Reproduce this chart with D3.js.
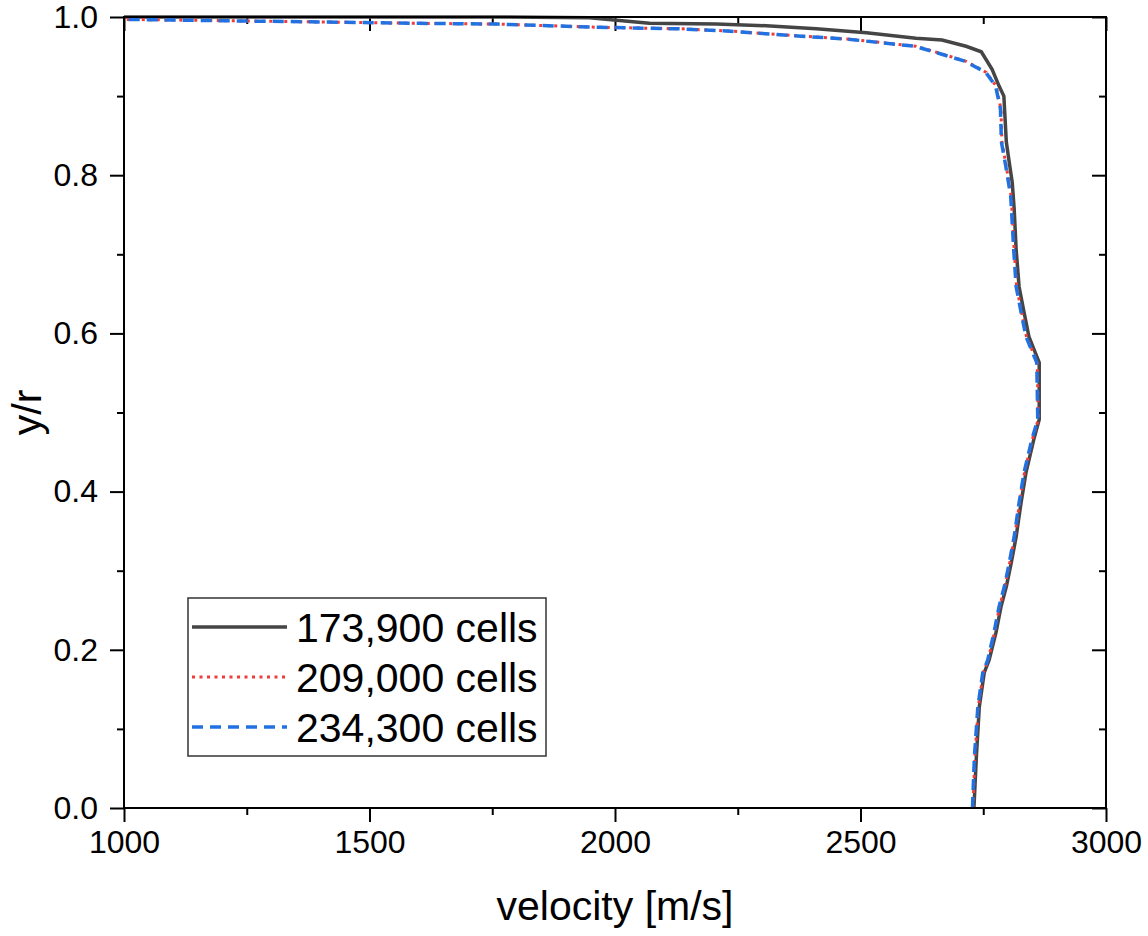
<!DOCTYPE html>
<html>
<head>
    <meta charset="utf-8" />
    <title>Velocity profile - mesh study</title>
    <style>
        body { margin: 0; background: #fff; }
        svg text { font-family: "Liberation Sans", Arial, sans-serif; fill: #000; }
    </style>
    <script src="https://cdn.jsdelivr.net/npm/d3@7/dist/d3.min.js"></script>
</head>
<body>
    <div id="chart"></div>
    <script>
        // series: velocity [m/s] against y/r
        var seriesNames = ['173,900 cells', '209,000 cells', '234,300 cells'];

        var grayY = [0.000, 0.065, 0.128, 0.171, 0.187, 0.222, 0.254, 0.280, 0.310, 0.343, 0.386, 0.424, 0.466, 0.491,
                     0.563, 0.596, 0.627, 0.659, 0.706, 0.757, 0.791, 0.816, 0.842, 0.900, 0.913, 0.934, 0.956, 0.963,
                     0.971, 0.973, 0.980, 0.985, 0.989, 0.991, 0.992, 0.999, 1.000, 1.000];
        var grayV = [2731, 2736, 2742, 2752, 2762, 2776, 2786, 2797, 2807, 2817, 2827, 2837, 2853, 2864,
                     2864, 2843, 2833, 2823, 2817, 2813, 2809, 2803, 2797, 2792, 2782, 2768, 2746, 2715,
                     2666, 2613, 2512, 2410, 2308, 2206, 2070, 1948, 1765, 1000];

        var redY = [0.000, 0.065, 0.128, 0.171, 0.187, 0.222, 0.254, 0.280, 0.310, 0.343, 0.386, 0.424, 0.466, 0.491,
                    0.563, 0.596, 0.627, 0.659, 0.706, 0.773, 0.811, 0.842, 0.884, 0.913, 0.930, 0.944, 0.957, 0.963,
                    0.972, 0.976, 0.982, 0.985, 0.987, 0.991, 0.992, 0.997];
        var redV = [2729, 2733, 2740, 2750, 2760, 2773, 2783, 2794, 2804, 2814, 2824, 2834, 2850, 2862,
                    2860, 2838, 2828, 2818, 2813, 2807, 2797, 2788, 2786, 2776, 2756, 2715, 2646, 2613,
                    2477, 2375, 2239, 2137, 1968, 1765, 1602, 1000];

        var blueY = [0.000, 0.065, 0.128, 0.171, 0.187, 0.222, 0.254, 0.280, 0.310, 0.343, 0.386, 0.424, 0.466, 0.491,
                     0.563, 0.596, 0.627, 0.659, 0.706, 0.773, 0.811, 0.842, 0.884, 0.913, 0.930, 0.944, 0.957, 0.963,
                     0.972, 0.976, 0.982, 0.985, 0.987, 0.991, 0.992, 0.997];
        var blueV = [2728, 2732, 2739, 2749, 2759, 2772, 2782, 2793, 2803, 2813, 2823, 2833, 2849, 2861,
                     2859, 2837, 2827, 2817, 2812, 2806, 2796, 2787, 2785, 2775, 2755, 2713, 2644, 2610,
                     2474, 2372, 2236, 2134, 1965, 1762, 1600, 1000];

        var xTicks = [1000, 1500, 2000, 2500, 3000];
        var yTicks = [0.0, 0.2, 0.4, 0.6, 0.8, 1.0];

        var width = 1148,
            height = 936,
            plotLeft = 124, plotRight = 1106,
            plotTop = 17, plotBottom = 808;

        var svg = d3.select('#chart')
            .append('svg')
            .attr('width', width)
            .attr('height', height);

        var x = d3.scaleLinear().domain([1000, 3000]).range([plotLeft, plotRight]);
        var y = d3.scaleLinear().domain([0, 1]).range([plotBottom, plotTop]);

        var xMinor = d3.range(1000, 3001, 250).filter(d => d % 500 != 0);
        var yMinor = [0.1, 0.3, 0.5, 0.7, 0.9];

        // axes: outward ticks at bottom/left, inward at top/right
        function tickStyle(g) {
            g.select('.domain').remove();
            g.selectAll('.tick line').attr('stroke', '#000').attr('stroke-width', 2);
            g.selectAll('.tick text').style('font-size', '32px').attr('fill', '#000');
        }

        svg.append('g')
            .attr('transform', 'translate(0,' + plotBottom + ')')
            .call(d3.axisBottom(x).tickValues(xTicks).tickFormat(d3.format('d')).tickSize(14).tickPadding(8))
            .call(tickStyle);
        svg.append('g')
            .attr('transform', 'translate(0,' + plotBottom + ')')
            .call(d3.axisBottom(x).tickValues(xMinor).tickFormat('').tickSize(7))
            .call(tickStyle);

        svg.append('g')
            .attr('transform', 'translate(' + plotLeft + ',0)')
            .call(d3.axisLeft(y).tickValues(yTicks).tickFormat(d3.format('.1f')).tickSize(14).tickPadding(12))
            .call(tickStyle);
        svg.append('g')
            .attr('transform', 'translate(' + plotLeft + ',0)')
            .call(d3.axisLeft(y).tickValues(yMinor).tickFormat('').tickSize(7))
            .call(tickStyle);

        svg.append('g')
            .attr('transform', 'translate(0,' + plotTop + ')')
            .call(d3.axisBottom(x).tickValues(xTicks).tickFormat('').tickSize(14))
            .call(tickStyle);
        svg.append('g')
            .attr('transform', 'translate(0,' + plotTop + ')')
            .call(d3.axisBottom(x).tickValues(xMinor).tickFormat('').tickSize(7))
            .call(tickStyle);

        svg.append('g')
            .attr('transform', 'translate(' + plotRight + ',0)')
            .call(d3.axisLeft(y).tickValues(yTicks).tickFormat('').tickSize(14))
            .call(tickStyle);
        svg.append('g')
            .attr('transform', 'translate(' + plotRight + ',0)')
            .call(d3.axisLeft(y).tickValues(yMinor).tickFormat('').tickSize(7))
            .call(tickStyle);

        // lines
        var line = d3.line()
            .x(d => x(d[0]))
            .y(d => y(d[1]));

        svg.append('path')
            .datum(d3.zip(grayV, grayY))
            .attr('d', line)
            .attr('fill', 'none')
            .attr('stroke', '#454545')
            .attr('stroke-width', 3.5);

        svg.append('path')
            .datum(d3.zip(redV, redY))
            .attr('d', line)
            .attr('fill', 'none')
            .attr('stroke', '#f03c3c')
            .attr('stroke-width', 3)
            .attr('stroke-dasharray', '3,4.5');

        svg.append('path')
            .datum(d3.zip(blueV, blueY))
            .attr('d', line)
            .attr('fill', 'none')
            .attr('stroke', '#2271e0')
            .attr('stroke-width', 3.5)
            .attr('stroke-dasharray', '11,7');

        // frame
        svg.append('rect')
            .attr('x', plotLeft)
            .attr('y', plotTop)
            .attr('width', plotRight - plotLeft)
            .attr('height', plotBottom - plotTop)
            .attr('fill', 'none')
            .attr('stroke', '#000')
            .attr('stroke-width', 2);

        // axis titles
        svg.append('text')
            .attr('x', (plotLeft + plotRight) / 2)
            .attr('y', 920)
            .attr('text-anchor', 'middle')
            .style('font-size', '41px')
            .text('velocity [m/s]');

        svg.append('text')
            .attr('transform', 'translate(41,' + (plotTop + plotBottom) / 2 + ') rotate(-90)')
            .attr('text-anchor', 'middle')
            .style('font-size', '41px')
            .text('y/r');

        // legend
        var legend = svg.append('g');
        legend.append('rect')
            .attr('x', 188)
            .attr('y', 598)
            .attr('width', 358)
            .attr('height', 158)
            .attr('fill', '#fff')
            .attr('stroke', '#333')
            .attr('stroke-width', 1.5);

        var legendStyles = [
            { color: '#454545', dash: null, w: 3.5 },
            { color: '#f03c3c', dash: '3,4.5', w: 3 },
            { color: '#2271e0', dash: '11,7', w: 3.5 }
        ];

        seriesNames.forEach(function(name, i) {
            var ly = 627 + i * 50;
            legend.append('line')
                .attr('x1', 192)
                .attr('x2', 287)
                .attr('y1', ly)
                .attr('y2', ly)
                .attr('stroke', legendStyles[i].color)
                .attr('stroke-width', legendStyles[i].w)
                .attr('stroke-dasharray', legendStyles[i].dash);
            legend.append('text')
                .attr('x', 296)
                .attr('y', ly + 15)
                .style('font-size', '41px')
                .text(name);
        });
    </script>
</body>
</html>
